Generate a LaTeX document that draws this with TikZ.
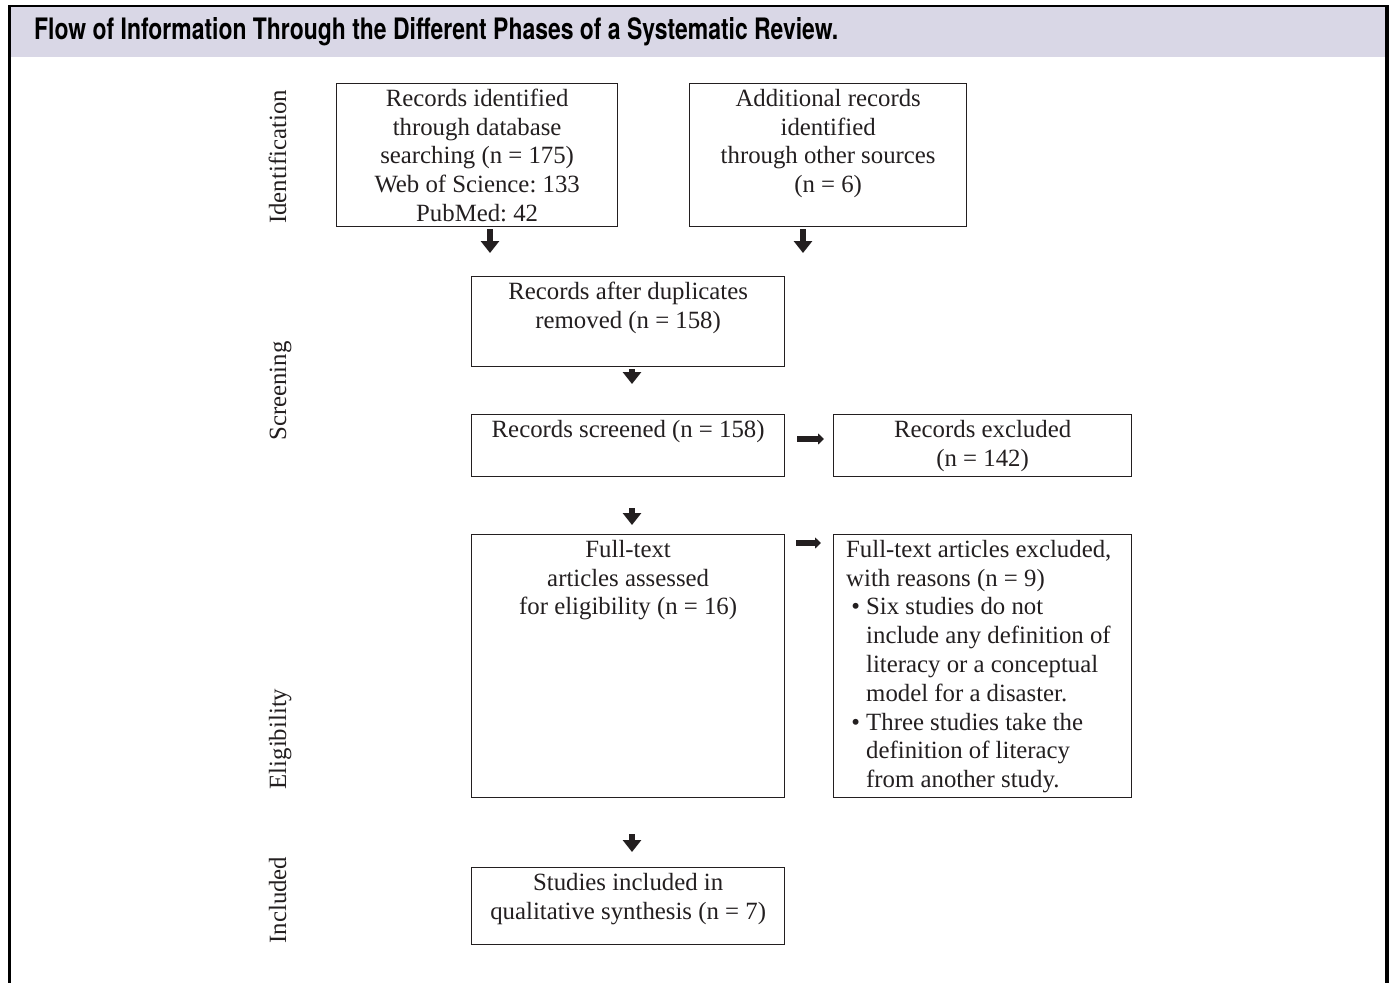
\documentclass[tikz,border=0pt]{standalone}
\usepackage{fontspec}
\usepackage{graphicx}
\setmainfont{Liberation Serif}
\newfontfamily\titlefont{TeX Gyre Heros}
\usetikzlibrary{arrows.meta}
\definecolor{ink}{HTML}{231F20}
\definecolor{band}{HTML}{D9D7E6}
\newcommand{\fstrut}{\rule{0pt}{23pt}}
\frenchspacing
\begin{document}
\frenchspacing
\begin{tikzpicture}[x=1pt,y=-1pt,
  box/.style={draw=ink, line width=1.3pt, rectangle, inner sep=0pt, anchor=north west},
  txt/.style={inner sep=0pt, text=ink, align=center, font=\fontsize{24.8}{28.8}\selectfont\frenchspacing},
  phase/.style={inner sep=0pt, text=ink, rotate=90, anchor=base, font=\fontsize{24.8}{28.8}\selectfont},
  dnarrow/.style={draw=ink, line width=6pt, -{Triangle[width=18pt,length=12pt]}},
  rtarrow/.style={draw=ink, line width=5.5pt, -{Triangle[width=11pt,length=6pt]}}
]
\useasboundingbox (0,0) rectangle (1393,983);
\fill[white] (0,0) rectangle (1393,983);
% header and frame
\fill[band] (11,6) rectangle (1385,57);
\draw[black, line width=2pt] (8,5.5) -- (1389,5.5);
\draw[black, line width=3pt] (9.8,5) -- (9.8,983);
\draw[black, line width=3.5pt] (1387,5) -- (1387,983);
\node[inner sep=0pt, anchor=base west] (title) at (34,39.3)
  {\resizebox{804pt}{22pt}{\titlefont\bfseries Flow of Information Through the Different Phases of a Systematic Review.}};
% phase labels
\node[phase] (pid) at (286,157) {Identification};
\node[phase] (psc) at (286,391) {Screening};
\node[phase] (pel) at (286,739) {Eligibility};
\node[phase] (pin) at (286,900) {Included};
% boxes
\node[box, minimum width=281pt, minimum height=143pt] (b1) at (336,83) {};
\node[box, minimum width=277pt, minimum height=143pt] (b2) at (689,83) {};
\node[box, minimum width=313pt, minimum height=90pt] (b3) at (471,276) {};
\node[box, minimum width=313pt, minimum height=62pt] (b4) at (471,414) {};
\node[box, minimum width=298pt, minimum height=62pt] (b5) at (833,414) {};
\node[box, minimum width=313pt, minimum height=263pt] (b6) at (471,534) {};
\node[box, minimum width=298pt, minimum height=263pt] (b7) at (833,534) {};
\node[box, minimum width=313pt, minimum height=77pt] (b8) at (471,867) {};
% texts
\node[txt, anchor=north] (t1) at (b1.north) {\fstrut Records identified\\ through database\\ searching (n = 175)\\ Web of Science: 133\\ PubMed: 42};
\node[txt, anchor=north] (t2) at (b2.north) {\fstrut Additional records\\ identified\\ through other sources\\ (n = 6)};
\node[txt, anchor=north] (t3) at (b3.north) {\fstrut Records after duplicates\\ removed (n = 158)};
\node[txt, anchor=north] (t4) at (b4.north) {\fstrut Records screened (n = 158)};
\node[txt, anchor=north] (t5) at (b5.north) {\fstrut Records excluded\\ (n = 142)};
\node[txt, anchor=north] (t6) at (b6.north) {\fstrut Full-text\\ articles assessed\\ for eligibility (n = 16)};
\node[txt, anchor=north west, align=left] (t7) at ([xshift=13pt]b7.north west) {\fstrut Full-text articles excluded,\\
with reasons (n = 9)\\
\hspace*{20pt}\llap{•\ }Six studies do not\\
\hspace*{20pt}include any definition of\\
\hspace*{20pt}literacy or a conceptual\\
\hspace*{20pt}model for a disaster.\\
\hspace*{20pt}\llap{•\ }Three studies take the\\
\hspace*{20pt}definition of literacy\\
\hspace*{20pt}from another study.};
\node[txt, anchor=north] (t8) at (b8.north) {\fstrut Studies included in\\ qualitative synthesis (n = 7)};
% arrows
\coordinate (c1) at (490,0);
\coordinate (c2) at (803,0);
\coordinate (c3) at (632,0);
\coordinate (e2) at (803,253);
\draw[dnarrow, shorten <=2pt, shorten >=23pt] (b1.south -| c1) -- (b3.north -| c1);
\draw[dnarrow, shorten <=2pt] (b2.south -| c2) -- (e2);
\draw[dnarrow, shorten <=2pt, shorten >=30pt] (b3.south -| c3) -- (b4.north -| c3);
\draw[dnarrow, shorten <=31pt, shorten >=9pt] (b4.south -| c3) -- (b6.north -| c3);
\draw[dnarrow, shorten <=36pt, shorten >=15pt] (b6.south -| c3) -- (b8.north -| c3);
\coordinate (r1) at (0,439);
\coordinate (r2) at (0,543);
\draw[rtarrow, shorten <=12pt, shorten >=9pt] (b4.east |- r1) -- (b5.west |- r1);
\draw[rtarrow, shorten <=11pt, shorten >=12pt] (b6.east |- r2) -- (b7.west |- r2);
\end{tikzpicture}
\end{document}
